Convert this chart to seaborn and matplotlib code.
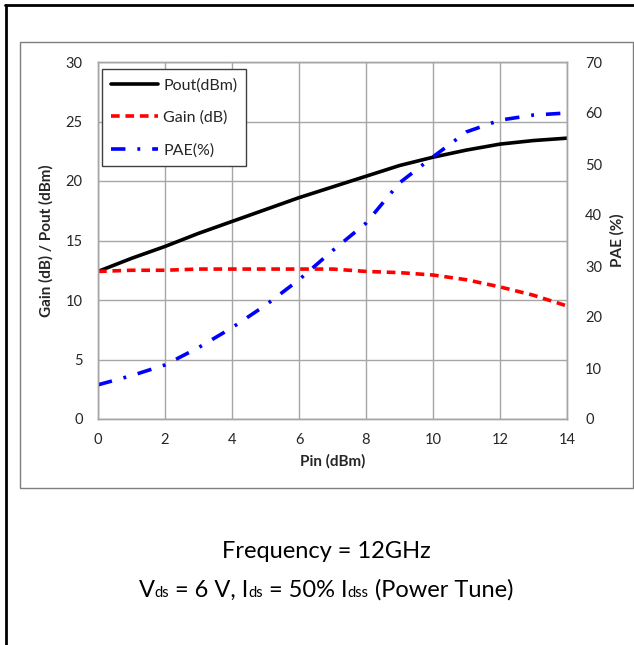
import numpy as np
import pandas as pd
import matplotlib
matplotlib.use("Agg")
import matplotlib.pyplot as plt
import seaborn as sns
from matplotlib.lines import Line2D
from matplotlib.patches import Rectangle

# values
pin = [0, 1, 2, 3, 4, 5, 6, 7, 8, 9, 10, 11, 12, 13, 14]
pout = [12.4, 13.5, 14.5, 15.6, 16.6, 17.6, 18.6, 19.5, 20.4, 21.3, 22.0, 22.6, 23.1, 23.4, 23.6]
gain = [12.4, 12.5, 12.5, 12.6, 12.6, 12.6, 12.6, 12.6, 12.4, 12.3, 12.1, 11.7, 11.1, 10.4, 9.5]
pae = [6.7, 8.5, 10.6, 14.0, 17.9, 22.3, 27.3, 33.0, 38.4, 46.3, 51.4, 56.3, 58.6, 59.6, 60.0]

series_names = ["Pout(dBm)", "Gain (dB)", "PAE(%)"]
note_line1 = "Frequency = 12GHz"
# (text, is_subscript)
note_line2 = [("V", False), ("ds", True), (" = 6 V, I", False), ("ds", True),
              (" = 50% I", False), ("dss", True), (" (Power Tune)", False)]

df = pd.DataFrame({"pin": pin, "pout": pout, "gain": gain, "pae": pae})

sns.set_theme(style="white")
plt.rcParams["font.family"] = ["Lato", "DejaVu Sans"]

txt = "#262626"
grid_c = "#a6a6a6"
dash_gain = (0, (2.4, 1.6))
dash_pae = (0, (4, 3.3, 0.8, 3.3))

fig = plt.figure(figsize=(6.34, 6.45), dpi=100)
W, H = 634, 645
ax = fig.add_axes([98 / W, 1 - 419 / H, (567 - 98) / W, (419 - 62) / H])
ax2 = ax.twinx()

sns.lineplot(data=df, x="pin", y="pout", ax=ax, color="black", lw=2.6, legend=False)
sns.lineplot(data=df, x="pin", y="gain", ax=ax, color="#ff0000", lw=2.6, linestyle=dash_gain, legend=False)
sns.lineplot(data=df, x="pin", y="pae", ax=ax2, color="#0000ff", lw=2.6, linestyle=dash_pae, legend=False)

ax.set_xlim(0, 14)
ax.set_ylim(0, 30)
ax2.set_ylim(0, 70)
ax.set_xticks(range(0, 15, 2))
ax.set_yticks(range(0, 31, 5))
ax2.set_yticks(range(0, 71, 10))
ax.grid(True, color=grid_c, lw=1)
ax.set_axisbelow(True)

for a in (ax, ax2):
    for s in a.spines.values():
        s.set_color(grid_c)
        s.set_linewidth(1)
    a.tick_params(length=0, labelsize=10.5, colors=txt)
ax.tick_params(axis="y", pad=11)
ax.tick_params(axis="x", pad=10)
ax2.tick_params(axis="y", pad=13)

ax.set_xlabel("Pin (dBm)", fontsize=11, fontweight="bold", color=txt, labelpad=5)
ax.set_ylabel("Gain (dB) / Pout (dBm)", fontsize=11, fontweight="bold", color=txt, labelpad=9)
ax2.set_ylabel("PAE (%)", fontsize=11, fontweight="bold", color=txt, labelpad=6)

handles = [
    Line2D([], [], color="black", lw=2.6),
    Line2D([], [], color="#ff0000", lw=2.6, linestyle=dash_gain),
    Line2D([], [], color="#0000ff", lw=2.6, linestyle=dash_pae),
]
leg = ax2.legend(handles, series_names, loc="upper left",
                 bbox_to_anchor=(0.008, 0.98), fontsize=11.5, frameon=True, fancybox=False,
                 edgecolor="#404040", framealpha=1, handlelength=3.0, handletextpad=0.3,
                 labelspacing=1.15, borderpad=0.55, borderaxespad=0)
leg.get_frame().set_linewidth(1)
for t in leg.get_texts():
    t.set_color(txt)

# chart area and outer frame
fig.patches.append(Rectangle((20 / W, 1 - 488 / H), (633 - 20) / W, (488 - 42) / H,
                             transform=fig.transFigure, fill=False, edgecolor="#7f7f7f", lw=1))
fig.add_artist(Line2D([5 / W, 1], [1 - 5 / H, 1 - 5 / H], transform=fig.transFigure, color="black", lw=2))
fig.add_artist(Line2D([6 / W, 6 / W], [0, 1 - 5 / H], transform=fig.transFigure, color="black", lw=2))

fig.text(326 / W, 1 - 551 / H, note_line1, ha="center", va="center", fontsize=17, color="black")

# second note line built from pieces so the subscripts stay small
renderer = fig.canvas.get_renderer()
pieces = []
for s, sub in note_line2:
    t = fig.text(0, 1 - 597 / H, s, ha="left", va="baseline",
                 fontsize=10.5 if sub else 17, color="black")
    pieces.append(t)
widths = [p.get_window_extent(renderer).width for p in pieces]
x = 326 - sum(widths) / 2
for p, w in zip(pieces, widths):
    p.set_x(x / W)
    x += w

fig.savefig("out.png", dpi=100)
